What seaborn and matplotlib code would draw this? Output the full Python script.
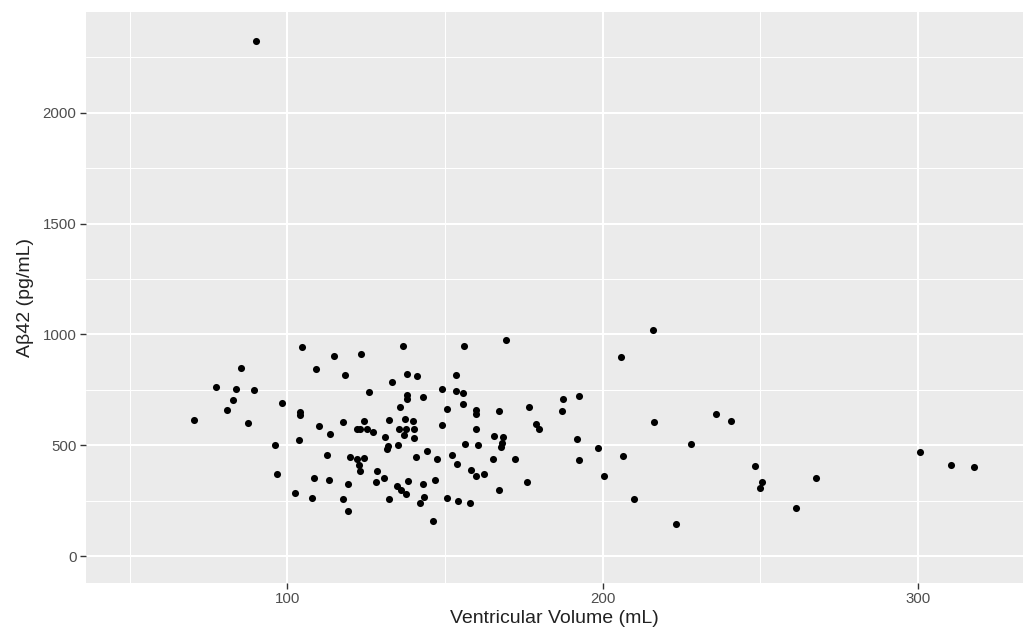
import matplotlib
matplotlib.use('Agg')
import seaborn as sns
import pandas as pd
import matplotlib.pyplot as plt
from matplotlib.ticker import MultipleLocator

# Ventricular volume (mL) and Abeta42 (pg/mL)
volume = [90.1, 104.7, 85.3, 109.0, 77.2, 83.6, 89.5, 82.7, 98.3, 80.9,
          104.0, 104.1, 70.5, 87.5, 110.1, 96.0, 103.6, 96.7, 108.3, 102.5,
          107.7,
          136.8, 114.7, 123.4, 118.4, 137.8, 141.2, 133.3, 153.5, 125.8, 149.1,
          153.4, 138.0, 137.8, 142.9, 135.7, 150.6, 117.8, 124.4, 132.4, 137.3,
          140.0, 149.1, 113.5, 122.2, 123.1, 125.4, 127.2, 135.3, 137.6, 140.2,
          131.0, 136.9, 140.3, 131.9, 131.6, 135.2, 112.7, 119.8, 122.2, 124.4,
          122.8, 122.9, 140.9, 144.2, 147.6, 152.3, 153.7, 128.4, 130.7, 113.3,
          119.3, 128.1, 138.3, 143.1, 146.9, 134.7, 136.0, 137.5, 117.8, 132.3,
          143.4, 142.1, 150.6, 154.2, 119.3, 146.1,
          169.4, 156.0, 155.6, 155.7, 159.8, 160.0, 167.0, 176.8, 187.5, 192.6,
          187.1, 160.0, 179.0, 179.7, 165.7, 168.5, 168.2, 167.8, 156.5, 160.6,
          192.0, 165.4, 172.1, 192.5, 158.4, 160.0, 162.4, 175.9, 167.1, 158.0,
          215.9, 205.7, 216.4, 236.1, 240.7, 198.7, 206.4, 228.1, 200.4, 248.4,
          250.6, 249.9, 267.8, 210.0, 261.3, 223.4,
          300.7, 310.4, 318.0]
abeta = [2326, 943, 848, 842, 761, 755, 749, 703, 691, 661,
         649, 637, 613, 599, 589, 503, 523, 369, 351, 285,
         260,
         947, 902, 913, 815, 821, 812, 787, 815, 740, 754,
         746, 725, 710, 718, 671, 664, 605, 611, 616, 617,
         611, 590, 551, 573, 572, 571, 560, 573, 573, 571,
         535, 546, 533, 497, 483, 501, 455, 447, 437, 441,
         411, 384, 446, 474, 437, 458, 416, 384, 354, 342,
         324, 336, 338, 326, 342, 318, 296, 278, 257, 257,
         266, 240, 261, 249, 204, 158,
         976, 949, 736, 686, 661, 640, 655, 671, 709, 724,
         655, 571, 598, 571, 541, 537, 509, 492, 505, 503,
         530, 437, 438, 432, 387, 360, 368, 332, 299, 240,
         1021, 898, 605, 643, 611, 486, 452, 506, 359, 405,
         332, 305, 351, 258, 215, 145,
         470, 410, 402]

df = pd.DataFrame({'volume': volume, 'abeta': abeta})

sns.set_style('darkgrid', {'axes.facecolor': '#EBEBEB', 'grid.color': 'white'})
plt.rcParams['font.family'] = ['Liberation Sans', 'DejaVu Sans']

fig = plt.figure(figsize=(10.23, 6.31), dpi=100)
ax = fig.add_axes([85.5 / 1023, 48 / 631, 937.5 / 1023, 571.3 / 631])
sns.scatterplot(data=df, x='volume', y='abeta', color='black', s=26,
                linewidth=0, ax=ax)

ax.set_xlim(35.95, 333.4)
ax.set_ylim(-121.6, 2456)
ax.xaxis.set_major_locator(MultipleLocator(100))
ax.xaxis.set_minor_locator(MultipleLocator(50))
ax.yaxis.set_major_locator(MultipleLocator(500))
ax.yaxis.set_minor_locator(MultipleLocator(250))
ax.grid(which='major', color='white', linewidth=1.5)
ax.grid(which='minor', color='white', linewidth=0.75)
ax.set_axisbelow(True)
for s in ax.spines.values():
    s.set_visible(False)
ax.tick_params(which='major', length=4, width=1, color='#333333',
               labelcolor='#4D4D4D', labelsize=10.8, pad=2.5,
               bottom=True, left=True)
ax.tick_params(which='minor', length=0)

ax.set_xlabel('Ventricular Volume (mL)', fontsize=14, color='#222222', labelpad=3)
ax.set_ylabel('A\u03b242 (pg/mL)', fontsize=14, color='#222222', labelpad=6)

fig.savefig('out.png', dpi=100)
